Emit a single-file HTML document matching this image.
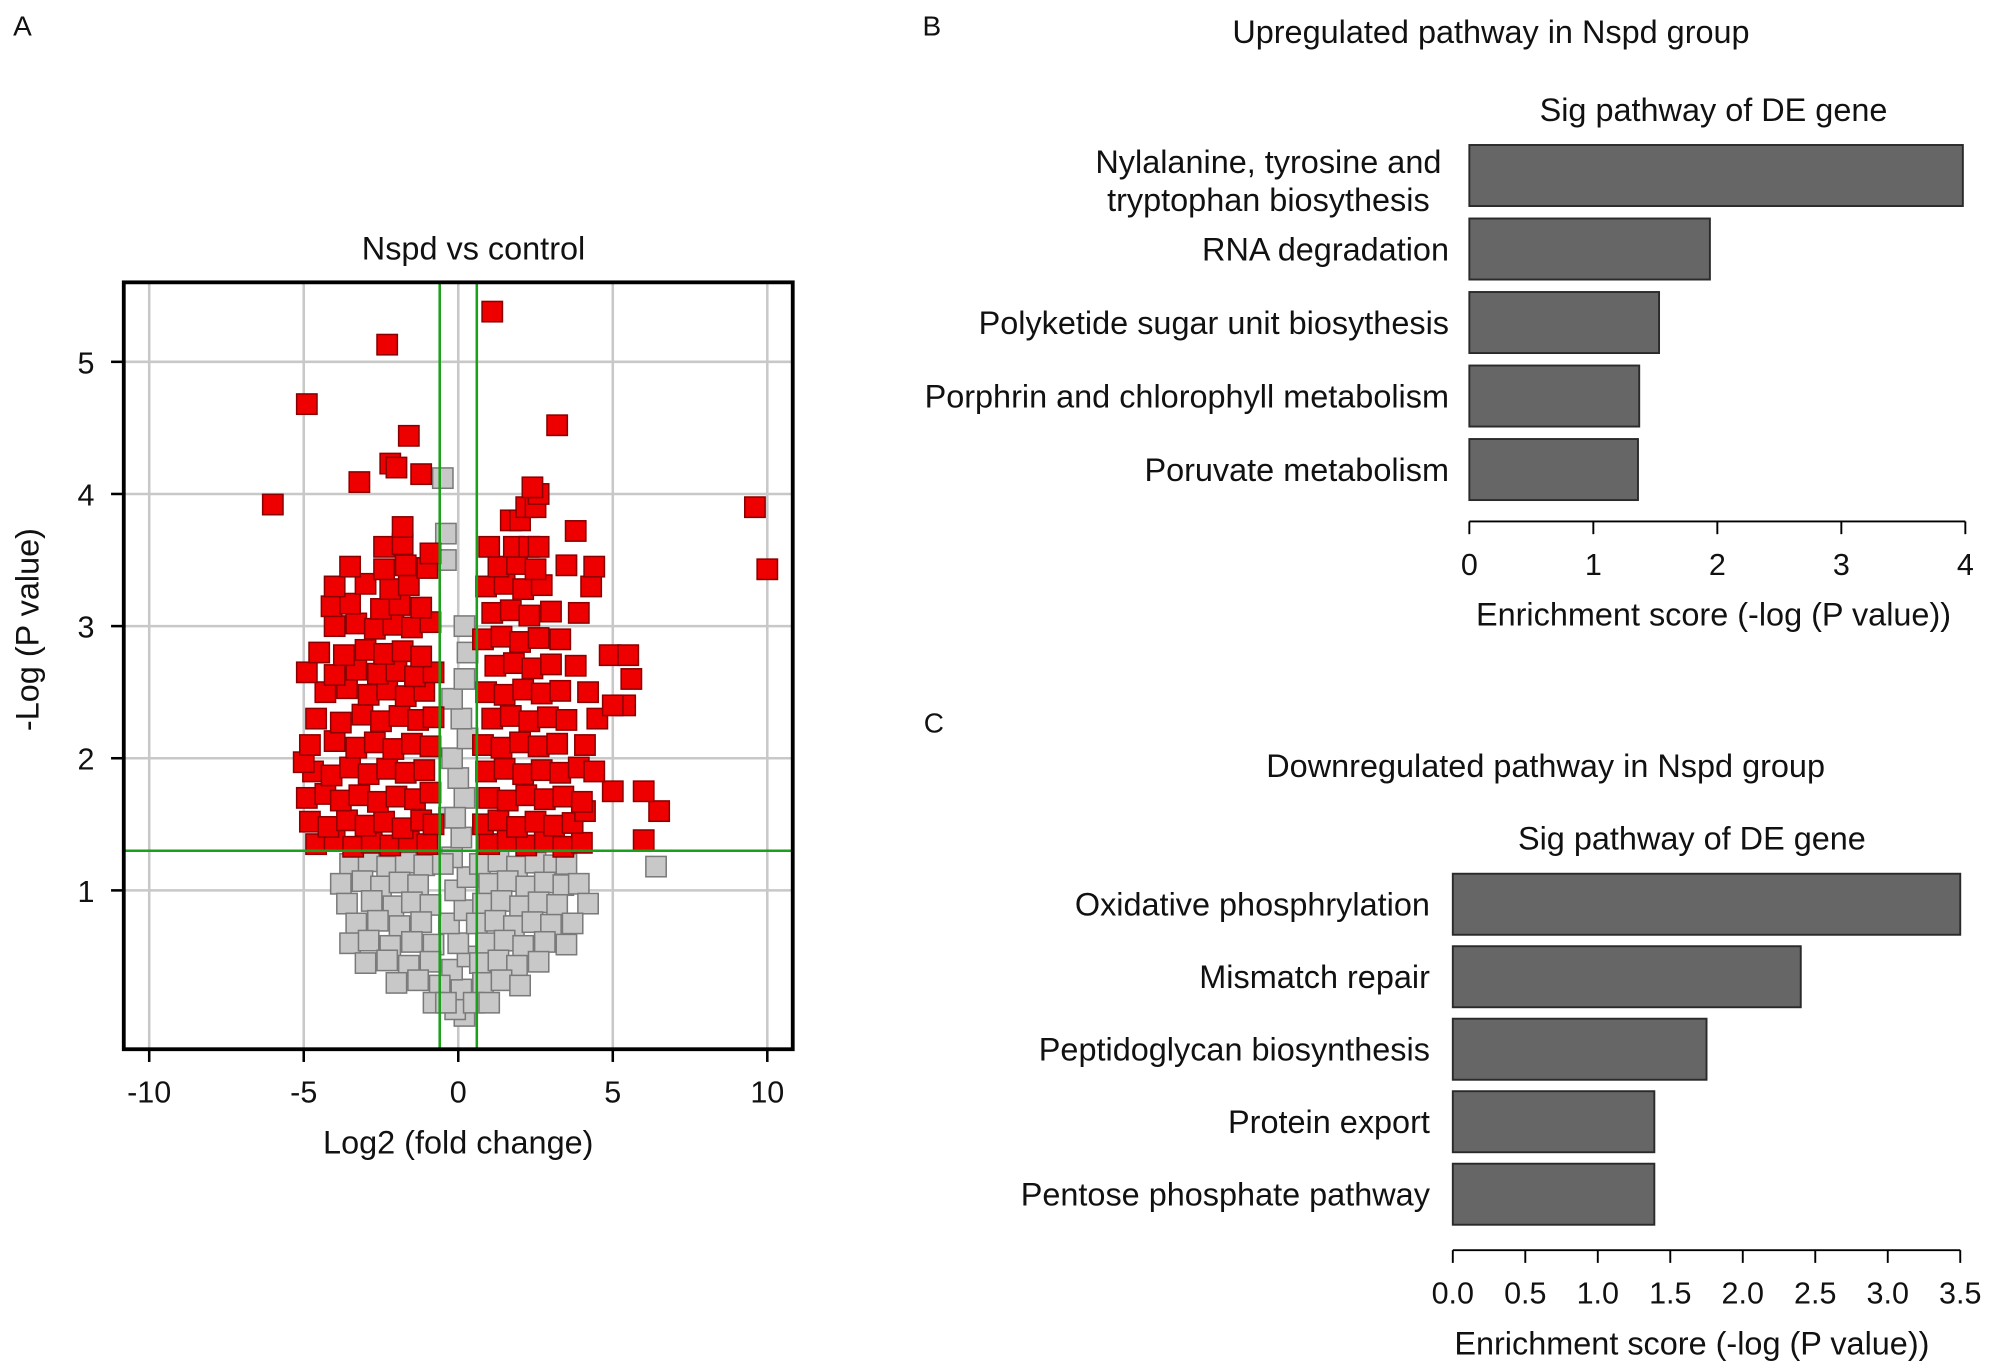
<!DOCTYPE html>
<html><head><meta charset="utf-8"><style>
html,body{margin:0;padding:0;background:#fff}
svg{display:block}
text{font-family:"Liberation Sans",Arial,sans-serif;fill:#111}
</style></head><body>
<svg id="fig" width="1995" height="1371" viewBox="0 0 1568 1078" xmlns="http://www.w3.org/2000/svg">
<text x="10" y="28" font-size="22">A</text>
<text x="725" y="28" font-size="22">B</text>
<text x="726" y="576" font-size="22">C</text>
<g id="volcano"></g>
<g id="barB"></g>
<g id="barC"></g>
</svg>
<script>
const xTicks=[-10,-5,0,5,10];
const yTicks=[1,2,3,4,5];
const pThreshold=1.3;
const fcThreshold=0.6;
const redPoints=[
[-4.6,1.35],[-4.0,1.38],[-3.4,1.33],[-2.8,1.36],[-2.2,1.34],[-1.6,1.37],[-1.0,1.35],
[-4.8,1.52],[-4.2,1.48],[-3.6,1.53],[-3.0,1.49],[-2.4,1.52],[-1.8,1.47],[-1.2,1.53],[-0.8,1.5],
[-4.9,1.7],[-4.3,1.73],[-3.8,1.68],[-3.2,1.72],[-2.6,1.67],[-2.0,1.71],[-1.4,1.69],[-0.9,1.74],
[-4.7,1.9],[-4.1,1.87],[-3.5,1.93],[-2.9,1.88],[-2.3,1.92],[-1.7,1.89],[-1.1,1.91],[-5.0,1.97],
[-4.8,2.1],[-4.0,2.13],[-3.3,2.08],[-2.7,2.12],[-2.1,2.07],[-1.5,2.11],[-0.9,2.09],
[-4.6,2.3],[-3.8,2.27],[-3.1,2.33],[-2.5,2.28],[-1.9,2.32],[-1.3,2.29],[-0.8,2.31],
[-4.3,2.5],[-3.6,2.53],[-2.9,2.48],[-2.3,2.52],[-1.7,2.47],[-1.1,2.51],
[-4.9,2.65],[-4.0,2.63],[-3.3,2.67],[-2.6,2.64],[-2.0,2.66],[-1.4,2.62],[-0.8,2.65],
[-4.5,2.8],[-3.7,2.78],[-3.0,2.82],[-2.4,2.79],[-1.8,2.81],[-1.2,2.77],
[-4.0,3.0],[-3.3,3.02],[-2.7,2.98],[-2.1,3.01],[-1.5,2.99],[-0.9,3.03],
[-4.1,3.15],[-3.5,3.17],[-2.5,3.13],[-1.9,3.16],[-1.2,3.14],
[-4.0,3.3],[-3.0,3.32],[-2.2,3.28],[-1.6,3.31],
[-3.5,3.45],[-2.4,3.43],[-1.7,3.46],[-1.0,3.44],[-2.4,3.6],[-1.8,3.62],[-1.8,3.75],
[-6.0,3.92],[-4.9,4.68],[-2.3,5.13],[-3.2,4.09],[-2.2,4.23],[-1.6,4.44],[-1.2,4.15],[-2.0,4.2],[-0.9,3.55],
[1.0,1.35],[1.6,1.38],[2.2,1.34],[2.8,1.37],[3.4,1.33],[4.0,1.36],[6.0,1.38],
[0.8,1.5],[1.3,1.53],[1.9,1.48],[2.5,1.52],[3.1,1.49],[3.7,1.51],[4.1,1.6],[6.5,1.6],
[1.0,1.7],[1.6,1.68],[2.2,1.72],[2.8,1.69],[3.4,1.71],[4.0,1.67],[5.0,1.75],[6.0,1.75],
[0.9,1.9],[1.5,1.92],[2.1,1.88],[2.7,1.91],[3.3,1.89],[3.9,1.93],[4.4,1.9],
[0.8,2.1],[1.4,2.08],[2.0,2.12],[2.6,2.09],[3.2,2.11],[4.1,2.1],
[1.1,2.3],[1.7,2.32],[2.3,2.28],[2.9,2.31],[3.5,2.29],[4.5,2.3],[5.4,2.4],[5.0,2.4],
[0.9,2.5],[1.5,2.48],[2.1,2.52],[2.7,2.49],[3.3,2.51],[4.2,2.5],[5.6,2.6],
[1.2,2.7],[1.8,2.72],[2.4,2.68],[3.0,2.71],[3.8,2.7],[4.9,2.78],[5.5,2.78],
[0.8,2.9],[1.4,2.92],[2.0,2.88],[2.6,2.91],[3.3,2.9],
[1.1,3.1],[1.7,3.12],[2.3,3.08],[3.0,3.11],[3.9,3.1],
[0.9,3.3],[1.5,3.32],[2.1,3.28],[2.7,3.31],[4.3,3.3],
[1.3,3.45],[1.9,3.47],[2.5,3.43],[3.5,3.46],[4.4,3.45],
[1.0,3.6],[1.8,3.6],[2.3,3.6],[2.6,3.6],[3.8,3.72],[1.7,3.8],[2.0,3.8],[2.2,3.9],[2.5,3.9],[2.6,4.0],
[1.1,5.38],[3.2,4.52],[9.6,3.9],[10.0,3.43],[2.4,4.05]
];
const grayPoints=[
[0.2,0.05],[-0.1,0.1],[0.1,0.25],[-0.2,0.4],[0.3,0.5],[0.0,0.6],[-0.3,0.75],[0.2,0.85],[-0.1,1.0],[0.3,1.1],
[-0.2,1.25],[0.1,1.4],[-0.3,1.55],[0.2,1.7],[0.0,1.85],[-0.2,2.0],[0.3,2.15],[0.1,2.3],[-0.2,2.45],[0.2,2.6],
[0.3,2.8],[0.2,3.0],[-0.4,3.5],[-0.5,4.12],[-0.4,3.7],[-0.1,1.55],
[-3.5,1.2],[-2.9,1.22],[-2.3,1.18],[-1.7,1.21],[-1.1,1.19],[-0.5,1.2],[0.7,1.2],[1.3,1.22],[1.9,1.18],[2.5,1.21],[3.1,1.19],[3.5,1.2],[6.4,1.18],
[-3.8,1.05],[-3.1,1.07],[-2.5,1.03],[-1.9,1.06],[-1.3,1.04],[1.0,1.05],[1.6,1.07],[2.2,1.03],[2.8,1.06],[3.4,1.04],[3.9,1.05],
[-3.6,0.9],[-2.8,0.92],[-2.1,0.88],[-1.5,0.91],[-0.9,0.89],[0.8,0.9],[1.4,0.92],[2.0,0.88],[2.6,0.91],[3.2,0.89],[4.2,0.9],
[-3.3,0.75],[-2.6,0.77],[-1.9,0.73],[-1.2,0.76],[0.6,0.75],[1.2,0.77],[1.8,0.73],[2.4,0.76],[3.0,0.74],[3.7,0.75],
[-3.5,0.6],[-2.9,0.62],[-2.2,0.58],[-1.5,0.61],[-0.8,0.59],[0.9,0.6],[1.5,0.62],[2.1,0.58],[2.8,0.61],[3.5,0.59],
[-3.0,0.45],[-2.3,0.47],[-1.6,0.43],[-0.9,0.46],[0.7,0.45],[1.3,0.47],[1.9,0.43],[2.6,0.46],
[-2.0,0.3],[-1.3,0.32],[-0.6,0.28],[0.8,0.3],[1.4,0.32],[2.0,0.28],[-0.8,0.15],[-0.4,0.15],[0.5,0.15],[1.0,0.15]
];
const upLabels=[["Nylalanine, tyrosine and","tryptophan biosythesis"],["RNA degradation"],["Polyketide sugar unit biosythesis"],["Porphrin and chlorophyll metabolism"],["Poruvate metabolism"]];
const upValues=[3.98,1.94,1.53,1.37,1.36];
const upTicks=[0,1,2,3,4];
const upTickLabels=["0","1","2","3","4"];
const downLabels=[["Oxidative phosphrylation"],["Mismatch repair"],["Peptidoglycan biosynthesis"],["Protein export"],["Pentose phosphate pathway"]];
const downValues=[3.5,2.4,1.75,1.39,1.39];
const downTicks=[0,0.5,1,1.5,2,2.5,3,3.5];
const downTickLabels=["0.0","0.5","1.0","1.5","2.0","2.5","3.0","3.5"];

const NS="http://www.w3.org/2000/svg";
const FS=25.5, TFS=24;
function mk(parent,tag,attrs,txt){const e=document.createElementNS(NS,tag);for(const k in attrs)e.setAttribute(k,attrs[k]);if(txt!==undefined)e.textContent=txt;parent.appendChild(e);return e;}

(function(){
const g=document.getElementById('volcano');
const L=97,R=623,T=222,B=825;
const sx=v=>360+v*24.3, sy=v=>804-v*103.9;
const S=16;
let e;
for(const t of xTicks){e=mk(g,'line',{x1:sx(t),x2:sx(t),y1:T,y2:B,stroke:'#c8c8c8','stroke-width':2});


e=mk(g,'line',{x1:sx(t),x2:sx(t),y1:B,y2:B+10,stroke:'#000','stroke-width':2});


e=mk(g,'text',{x:sx(t),y:867,'font-size':TFS,'text-anchor':'middle'},String(t));

}
for(const t of yTicks){e=mk(g,'line',{x1:L,x2:R,y1:sy(t),y2:sy(t),stroke:'#c8c8c8','stroke-width':2});


e=mk(g,'line',{x1:L-10,x2:L,y1:sy(t),y2:sy(t),stroke:'#000','stroke-width':2});


e=mk(g,'text',{x:74,y:sy(t)+9,'font-size':TFS,'text-anchor':'end'},String(t));

}
for(const p of grayPoints){e=mk(g,'rect',{x:sx(p[0])-S/2,y:sy(p[1])-S/2,width:S,height:S,fill:'#c8c8c8',stroke:'#7a7a7a','stroke-width':1.2});

}
for(const p of redPoints){e=mk(g,'rect',{x:sx(p[0])-S/2,y:sy(p[1])-S/2,width:S,height:S,fill:'#ee0000',stroke:'#8a0000','stroke-width':1.2});

}
e=mk(g,'line',{x1:L,x2:R,y1:sy(pThreshold),y2:sy(pThreshold),stroke:'#1aa01a','stroke-width':2});


for(const f of [-fcThreshold,fcThreshold]){e=mk(g,'line',{x1:sx(f),x2:sx(f),y1:T,y2:B,stroke:'#1aa01a','stroke-width':2});

}
e=mk(g,'rect',{x:L,y:T,width:R-L,height:B-T,fill:'none',stroke:'#000','stroke-width':3});


e=mk(g,'text',{x:372,y:204,'font-size':FS,'text-anchor':'middle'},'Nspd vs control');


e=mk(g,'text',{x:360,y:907,'font-size':FS,'text-anchor':'middle'},'Log2 (fold change)');


e=mk(g,'text',{x:30,y:495,'font-size':FS,'text-anchor':'middle',transform:'rotate(-90 30 495)'},'-Log (P value)');


})();

function barChart(id,o){
const g=document.getElementById(id);let e;
const sx=v=>o.x0+v*o.k;
e=mk(g,'text',{x:o.titleX,y:o.titleY,'font-size':FS,'text-anchor':'middle'},o.title);


e=mk(g,'text',{x:o.subX,y:o.subY,'font-size':FS,'text-anchor':'middle'},'Sig pathway of DE gene');


o.values.forEach((v,i)=>{
const y=o.y0+i*o.step;
e=mk(g,'rect',{x:sx(0),y:y,width:sx(v)-sx(0),height:48,fill:'#666666',stroke:'#2a2a2a','stroke-width':1.5});


const lines=o.labels[i];
if(lines.length===1){e=mk(g,'text',{x:o.labelX,y:y+33,'font-size':FS,'text-anchor':'end'},lines[0]);}
else{e=mk(g,'text',{x:997,y:y+22,'font-size':FS,'text-anchor':'middle'});
mk(e,'tspan',{x:997,dy:0},lines[0]);mk(e,'tspan',{x:997,dy:30},lines[1]);}


});
e=mk(g,'line',{x1:sx(0),x2:sx(o.ticks[o.ticks.length-1]),y1:o.axisY,y2:o.axisY,stroke:'#000','stroke-width':1.5});


o.ticks.forEach((t,i)=>{
e=mk(g,'line',{x1:sx(t),x2:sx(t),y1:o.axisY,y2:o.axisY+10,stroke:'#000','stroke-width':1.5});


e=mk(g,'text',{x:sx(t),y:o.axisY+42,'font-size':TFS,'text-anchor':'middle'},o.tickLabels[i]);


});
e=mk(g,'text',{x:o.subX,y:o.axisY+82,'font-size':FS,'text-anchor':'middle'},'Enrichment score (-log (P value))');


}
barChart('barB',{title:'Upregulated pathway in Nspd group',titleX:1172,titleY:34,subX:1347,subY:95,x0:1155,k:97.5,y0:114,step:57.8,values:upValues,labels:upLabels,labelX:1139,axisY:410,ticks:upTicks,tickLabels:upTickLabels});
barChart('barC',{title:'Downregulated pathway in Nspd group',titleX:1215,titleY:611,subX:1330,subY:668,x0:1142,k:114,y0:687,step:57,values:downValues,labels:downLabels,labelX:1124,axisY:983,ticks:downTicks,tickLabels:downTickLabels});
</script>
</body></html>
